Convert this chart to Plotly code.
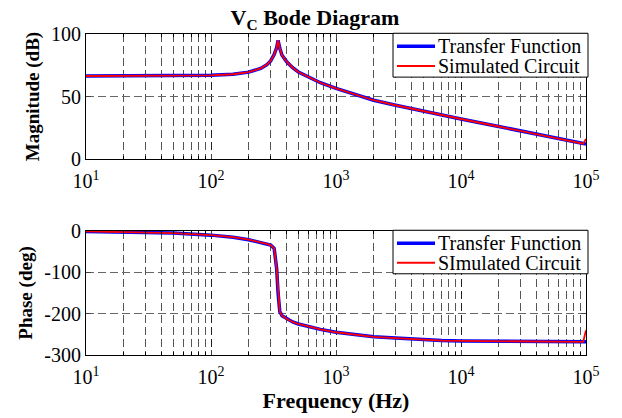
import plotly.graph_objects as go

freq_hz = [10, 20, 50, 100, 150, 200, 250, 280, 300, 320, 335, 344, 355, 370, 405, 450, 500, 600, 750, 1000,
           1500, 2000, 3000, 5000, 7000, 10000, 20000, 30000, 50000, 70000, 95000, 100000]
mag_tf_db = [66.4, 66.4, 66.5, 66.9, 67.8, 69.5, 72.5, 75.5, 78.5, 83.5, 89.0, 95.0, 88.5, 83.0, 77.6, 73.0, 69.6,
             65.5, 61.0, 56.5, 51.0, 47.0, 43.0, 38.2, 35.2, 32.0, 26.0, 22.5, 18.0, 15.0, 12.3, 12.0]
mag_sim_db = [66.4, 66.4, 66.5, 66.9, 67.8, 69.5, 72.5, 75.5, 78.5, 83.5, 89.0, 95.0, 88.5, 83.0, 77.6, 73.0, 69.6,
              65.5, 61.0, 56.5, 51.0, 47.0, 43.0, 38.2, 35.2, 32.0, 26.0, 22.5, 18.0, 15.0, 12.3, 16.0]
phase_tf_deg = [-1, -2, -5, -10, -15, -21, -27, -31, -34, -42, -90, -150, -195, -205, -213, -220, -225,
                -231, -238, -245, -252, -256, -259, -263, -265, -266, -267, -268, -268, -268, -268, -268]
phase_sim_deg = [-1, -2, -5, -10, -15, -21, -27, -31, -34, -42, -90, -150, -195, -205, -213, -220, -225,
                 -231, -238, -245, -252, -256, -259, -263, -265, -266, -267, -268, -268, -268, -268, -240]

xtick_vals = [10, 100, 1000, 10000, 100000]
xtick_text = ["10<sup>1</sup>", "10<sup>2</sup>", "10<sup>3</sup>", "10<sup>4</sup>", "10<sup>5</sup>"]
mag_ticks = [0, 50, 100]
phase_ticks = [-300, -200, -100, 0]
phase_tick_text = ["-300", "-200", "-100", "0"]

legend_top = ["Transfer Function", "Simulated Circuit"]
legend_bot = ["Transfer Function", "SImulated Circuit"]
series_colors = ["#0000ff", "#ff0000"]
series_widths = [3.5, 1.8]

FONT = "Liberation Serif"
DASH = "8px,4px"
fig = go.Figure()

fig.add_trace(go.Scatter(x=freq_hz, y=mag_tf_db, mode="lines", name=legend_top[0],
                         line=dict(color=series_colors[0], width=series_widths[0]), xaxis="x", yaxis="y"))
fig.add_trace(go.Scatter(x=freq_hz, y=mag_sim_db, mode="lines", name=legend_top[1],
                         line=dict(color=series_colors[1], width=series_widths[1]), xaxis="x", yaxis="y"))
fig.add_trace(go.Scatter(x=freq_hz, y=phase_tf_deg, mode="lines", name=legend_bot[0],
                         line=dict(color=series_colors[0], width=series_widths[0]), xaxis="x2", yaxis="y2"))
fig.add_trace(go.Scatter(x=freq_hz, y=phase_sim_deg, mode="lines", name=legend_bot[1],
                         line=dict(color=series_colors[1], width=series_widths[1]), xaxis="x2", yaxis="y2"))

top_dom = [0.6106, 1.0]
bot_dom = [0.0, 0.3863]

def xaxis(anchor, title=None):
    d = dict(type="log", range=[1, 5], anchor=anchor, domain=[0, 1],
             tickvals=xtick_vals, ticktext=xtick_text, ticks="inside", ticklen=5,
             ticklabelstandoff=4,
             showline=True, linecolor="black", linewidth=1, mirror="ticks",
             showgrid=True, gridcolor="#222", griddash=DASH, gridwidth=1,
             tickfont=dict(family=FONT, size=20, color="black"),
             minor=dict(dtick="D1", showgrid=True, gridcolor="#555", griddash=DASH,
                        ticks="inside", ticklen=3, tickcolor="black"),
             zeroline=False)
    if title:
        d["title"] = dict(text=title, font=dict(family=FONT, size=22, color="black"), standoff=4)
    return d

def yaxis(anchor, dom, rng, tv, tt, title):
    return dict(anchor=anchor, domain=dom, range=rng, tickvals=tv, ticktext=tt, ticks="inside", ticklen=5,
                showline=True, linecolor="black", linewidth=1, mirror="ticks",
                showgrid=True, gridcolor="#666", griddash=DASH, gridwidth=1, zeroline=False,
                tickfont=dict(family=FONT, size=20, color="black"),
                title=dict(text=title, font=dict(family=FONT, size=19, color="black"), standoff=6))

# Legend boxes drawn manually (compact MATLAB-style)
shapes = []
annotations = []
for xr, yr, labels in [("x domain", "y domain", legend_top), ("x2 domain", "y2 domain", legend_bot)]:
    shapes.append(dict(type="rect", xref=xr, yref=yr, x0=0.614, x1=1.004, y0=0.655, y1=1.006,
                       fillcolor="white", line=dict(color="black", width=1), layer="above"))
    for i, (lab, col, w) in enumerate(zip(labels, series_colors, series_widths)):
        ly = 0.902 - i * 0.158
        shapes.append(dict(type="line", xref=xr, yref=yr, x0=0.622, x1=0.698, y0=ly, y1=ly,
                           line=dict(color=col, width=w if i == 0 else 2.2), layer="above"))
        annotations.append(dict(text=lab, xref=xr, yref=yr, x=0.700, y=ly, xanchor="left", yanchor="middle",
                                showarrow=False, font=dict(family=FONT, size=20, color="black")))

fig.update_layout(
    width=614, height=410,
    paper_bgcolor="white", plot_bgcolor="white",
    margin=dict(l=78, r=36, t=26, b=63),
    title=dict(text="<b>V<sub>C</sub> Bode Diagram</b>", x=0.5, xanchor="center",
               yref="container", y=1.0, yanchor="top", pad=dict(t=2),
               font=dict(family=FONT, size=22, color="black")),
    xaxis=xaxis("y"),
    yaxis=yaxis("x", top_dom, [0, 100], mag_ticks, [str(v) for v in mag_ticks], "<b>Magnitude (dB)</b>"),
    xaxis2=xaxis("y2", "<b>Frequency (Hz)</b>"),
    yaxis2=yaxis("x2", bot_dom, [-300, 0], phase_ticks, phase_tick_text, "<b>Phase (deg)</b>"),
    showlegend=False,
    shapes=shapes,
    annotations=annotations,
)

fig.write_html("out.html")
